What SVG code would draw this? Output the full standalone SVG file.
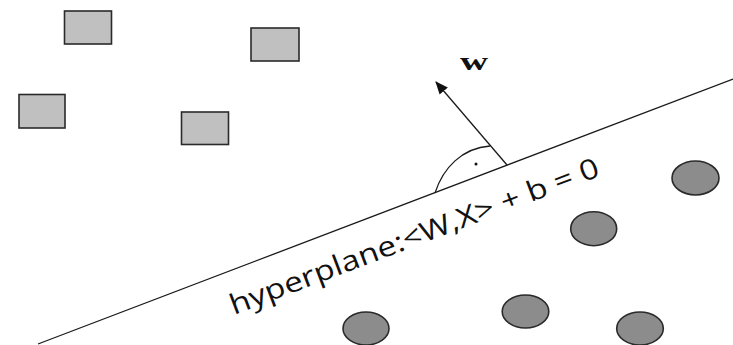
<svg xmlns="http://www.w3.org/2000/svg" width="733" height="345" viewBox="0 0 733 345">
<defs>
<style>
.sq{fill:#c0c0c0;stroke:#2a2a2a;stroke-width:1.6}
.ci{fill:#8c8c8c;stroke:#2a2a2a;stroke-width:1.6}
.ln{fill:none;stroke:#1a1a1a;stroke-width:1.3}
.lbl{font-family:"Open Sans","Liberation Sans",sans-serif;font-size:28px;fill:#111}
.w{font-family:"Liberation Serif",serif;font-size:26px;font-weight:bold;fill:#111}
</style>
<marker id="ah" viewBox="0 0 12 10" refX="11" refY="5" markerWidth="13" markerHeight="11" markerUnits="userSpaceOnUse" orient="auto">
<path d="M0,0 L12,5 L0,10 z" fill="#111"/>
</marker>
</defs>
<rect width="733" height="345" fill="#fff"/>
<g id="sq1"><rect class="sq" x="64.5" y="11" width="47" height="33"/></g>
<g id="sq2"><rect class="sq" x="251" y="28" width="48" height="33"/></g>
<g id="sq3"><rect class="sq" x="19" y="94.5" width="46" height="33.5"/></g>
<g id="sq4"><rect class="sq" x="181.5" y="112" width="47" height="32.5"/></g>
<g id="c1"><ellipse class="ci" cx="366" cy="328.5" rx="23" ry="16.5"/></g>
<g id="c2"><ellipse class="ci" cx="525.5" cy="311.5" rx="23.3" ry="16.5"/></g>
<g id="c3"><ellipse class="ci" cx="640" cy="328.5" rx="23.3" ry="16.5"/></g>
<g id="c4"><ellipse class="ci" cx="593.7" cy="228.7" rx="23" ry="17"/></g>
<g id="c5"><ellipse class="ci" cx="695.5" cy="178" rx="23.5" ry="17"/></g>
<g id="connectors">
<line class="ln" x1="38" y1="344" x2="733" y2="79"/>
<line class="ln" x1="507" y1="165" x2="436" y2="82" stroke-width="2" marker-end="url(#ah)"/>
<path class="ln" d="M435,193 C443,168 462,148 490,146"/>
<circle cx="476" cy="164" r="1.5" fill="#111"/>
</g>
<text class="w" transform="translate(460,70) scale(1.5,1)" x="0" y="0">w</text>
<text class="lbl" transform="translate(234,315) rotate(-20.8)" x="0" y="0" textLength="393" lengthAdjust="spacingAndGlyphs">hyperplane:&lt;W,X&gt; + b = 0</text>
</svg>
